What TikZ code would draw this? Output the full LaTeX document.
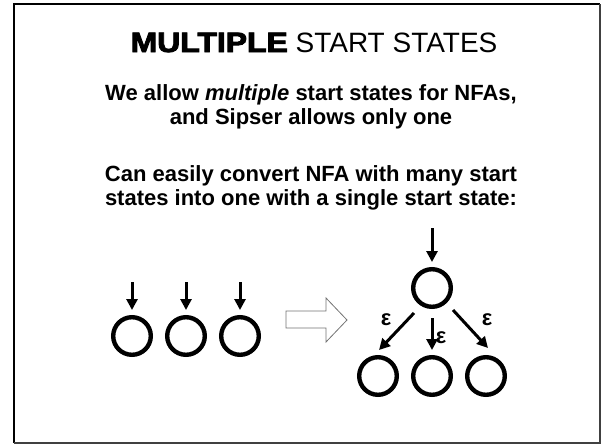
\documentclass[tikz,border=0pt]{standalone}
\usepackage{fontspec}
\usepackage{graphicx}
\setmainfont{Liberation Sans}
\newfontfamily\blackfont[BoldFeatures={FakeBold=3}]{Liberation Sans}
\usetikzlibrary{arrows.meta,calc}
\tikzset{
  state/.style={circle,draw,line width=4.4pt,minimum size=37.6pt,inner sep=0pt},
  arr/.style={line width=3pt,-{Triangle[width=11pt,length=11pt]}},
  eps/.style={font=\bfseries\fontsize{22}{24}\selectfont,inner sep=0pt},
  body/.style={anchor=base,inner sep=0pt,font=\bfseries\fontsize{22}{24}\selectfont},
  frameA/.style={line width=2.4pt,black},
  frameB/.style={line width=1.2pt,black!75},
  hollow/.style={draw=black!55,line width=0.8pt,fill=white}
}
\begin{document}
\begin{tikzpicture}[x=1pt,y=-1pt]
\useasboundingbox (0,0) rectangle (602,445);
% frame
\draw[frameA] (14,443) -- (14,4) -- (600,4);
\draw[frameB] (600,4) -- (600,443) -- (14,443);
% texts
\node[anchor=base,inner sep=0pt,font=\fontsize{28}{32}\selectfont] (title) at (314,52)
  {{\blackfont\bfseries\scalebox{1.14}[1]{MULTIPLE}} START STATES};
\node[body] (l1) at (311,100) {We allow \textit{multiple} start states for NFAs,};
\node[body] (l2) at (311,124) {and Sipser allows only one};
\node[body] (l3) at (311,181) {Can easily convert NFA with many start};
\node[body] (l4) at (311,205) {states into one with a single start state:};
% left states
\node[state] (a1) at (132,336) {};
\node[state] (a2) at (186,336) {};
\node[state] (a3) at (240,336) {};
\coordinate (s1) at (132,282);
\coordinate (s2) at (186,282);
\coordinate (s3) at (240,282);
\draw[arr,shorten >=5pt] (s1) -- (a1);
\draw[arr,shorten >=5pt] (s2) -- (a2);
\draw[arr,shorten >=5pt] (s3) -- (a3);
% hollow arrow
\draw[hollow] (286,311) -- (326,311) -- (326,298) -- (347,320) -- (326,342) -- (326,328) -- (286,328) -- cycle;
% right states
\node[state] (t) at (432,288) {};
\node[state] (b1) at (378,376) {};
\node[state] (b2) at (432,376) {};
\node[state] (b3) at (486,376) {};
\coordinate (st) at (432,228);
\draw[arr,shorten >=5pt] (st) -- (t);
\draw[arr] ([shift={(-18,25)}]t.center) -- ([shift={(1,-26)}]b1.center);
\draw[arr] ([shift={(0,30)}]t.center) -- ([shift={(0,-26)}]b2.center);
\draw[arr] ([shift={(21,22)}]t.center) -- ([shift={(2,-28)}]b3.center);
\node[eps] (e1) at (386,320) {ε};
\node[eps] (e2) at (441,338) {ε};
\node[eps] (e3) at (487,320) {ε};
\end{tikzpicture}
\end{document}
